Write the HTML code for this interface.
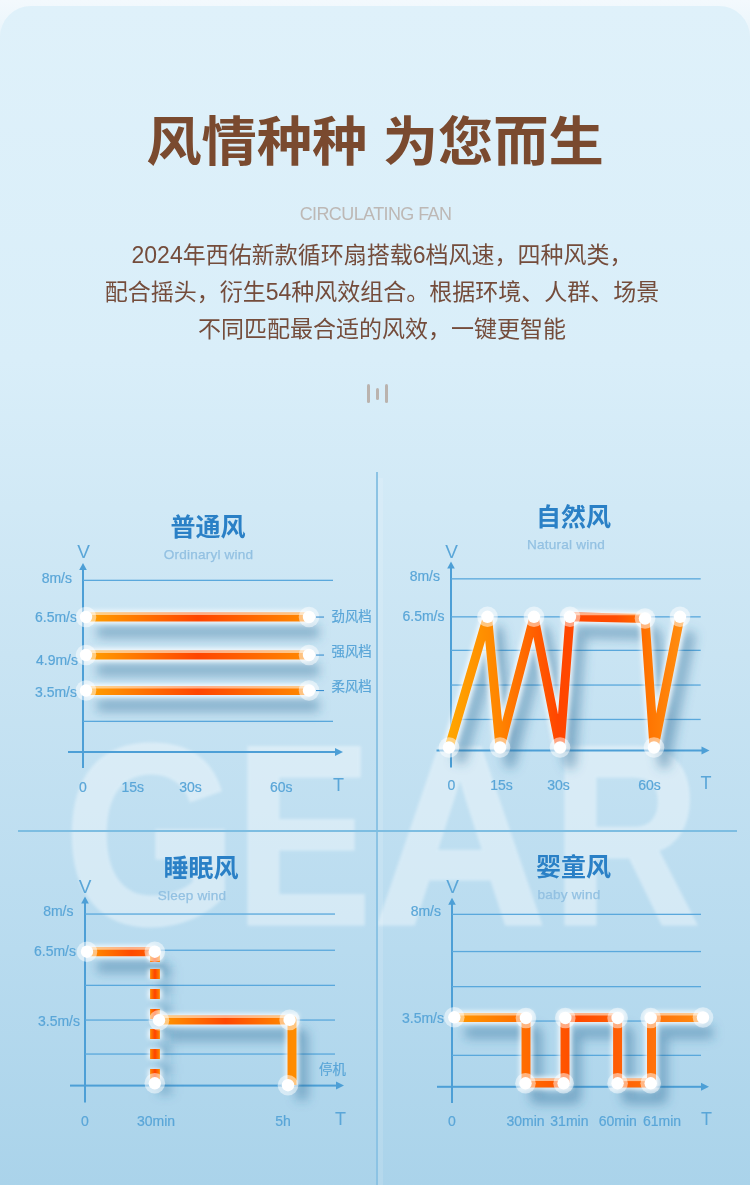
<!DOCTYPE html>
<html><head><meta charset="utf-8"><title>风情种种 为您而生</title>
<style>
*{margin:0;padding:0;box-sizing:border-box}
html,body{width:750px;height:1185px;overflow:hidden;background:linear-gradient(180deg,#f3f9fd 0,#eef7fc 20px,#e3f2fa 45px,#dff1fa 60px)}
body{position:relative;font-family:"Liberation Sans","Noto Sans CJK SC",sans-serif}
.card{position:absolute;left:0;top:5.5px;width:750px;height:1180px;border-radius:31px 31px 0 0;
 background:linear-gradient(180deg,#dff1fa 0%,#d9eef9 30%,#c9e4f3 55%,#b8dbef 80%,#aad3ea 100%)}
.title{position:absolute;left:0;width:750px;top:103.5px;text-align:center;font-size:55.3px;font-weight:700;color:#7a4a2f;
 font-family:"Liberation Sans","Noto Sans CJK SC",sans-serif;line-height:80px;letter-spacing:0;transform:scaleY(0.96);transform-origin:0 17px}
.sub{position:absolute;left:0.5px;width:750px;top:204px;text-align:center;font-size:18px;color:#bdb8b5;line-height:20px;letter-spacing:-0.6px}
.para{position:absolute;left:7px;width:750px;top:237px;text-align:center;font-size:23px;color:#744c3b;line-height:37px;
 font-family:"Liberation Sans","Noto Sans CJK SC",sans-serif}
.bars{position:absolute;left:367px;top:384px}
.bars i{position:absolute;width:3px;border-radius:2px;background:#bab3ae}
.gear{position:absolute;left:0;top:0;width:750px;height:1185px;opacity:0.38;filter:blur(1.8px)}
.gear span{position:absolute;top:685px;font-size:256px;font-weight:700;color:#fff;font-family:"Liberation Sans",sans-serif;line-height:300px;transform-origin:0 0;white-space:nowrap;-webkit-text-stroke:3px #fff}
.vline{position:absolute;left:376px;top:472px;width:2px;height:713px;background:#8cc3e4}
.vglow{position:absolute;left:378px;top:478px;width:5px;height:707px;background:rgba(255,255,255,0.13)}
.hline{position:absolute;left:18px;top:830px;width:719px;height:2px;background:#7dbde1}
svg{position:absolute;left:0;top:0}
</style></head><body>
<div class="card"></div>
<div class="title">风情种种 为您而生</div>
<div class="sub">CIRCULATING FAN</div>
<div class="para">2024年西佑新款循环扇搭载6档风速，四种风类，<br>配合摇头，衍生54种风效组合。根据环境、人群、场景<br>不同匹配最合适的风效，一键更智能</div>
<div class="bars"><i style="left:0;top:0;height:18.5px"></i><i style="left:9px;top:4px;height:12px"></i><i style="left:18px;top:0;height:18.5px"></i></div>
<div class="gear"><span style="left:63.9px;transform:scaleX(0.87)">G</span><span style="left:235.2px;transform:scaleX(0.8)">E</span><span style="left:373px;transform:scaleX(0.94)">A</span><span style="left:552px;transform:scaleX(0.8)">R</span></div>
<div class="vglow"></div>
<div class="vline"></div>
<div class="hline"></div>
<svg width="750" height="1185" viewBox="0 0 750 1185">
<defs>
<filter id="shadow" filterUnits="userSpaceOnUse" x="0" y="0" width="750" height="1185"><feGaussianBlur stdDeviation="5.5"/></filter>
<filter id="glow" filterUnits="userSpaceOnUse" x="0" y="0" width="750" height="1185"><feGaussianBlur stdDeviation="1.9"/></filter>
<filter id="hl" filterUnits="userSpaceOnUse" x="0" y="0" width="750" height="1185"><feGaussianBlur stdDeviation="0.7"/></filter>
<linearGradient id="g1" gradientUnits="userSpaceOnUse" x1="87" y1="0" x2="309" y2="0"><stop offset="0" stop-color="#ffa000"/><stop offset="0.5" stop-color="#ff4500"/><stop offset="1" stop-color="#ff8a00"/></linearGradient>
<linearGradient id="g2" gradientUnits="userSpaceOnUse" x1="449" y1="0" x2="680" y2="0"><stop offset="0" stop-color="#ffa600"/><stop offset="0.22" stop-color="#ff8400"/><stop offset="0.47" stop-color="#ff4600"/><stop offset="0.72" stop-color="#ff4c00"/><stop offset="0.86" stop-color="#ff7400"/><stop offset="1" stop-color="#ff8c10"/></linearGradient>
<linearGradient id="g3" gradientUnits="userSpaceOnUse" x1="87" y1="0" x2="155" y2="0"><stop offset="0" stop-color="#ff9200"/><stop offset="0.65" stop-color="#ff4a00"/><stop offset="1" stop-color="#ff6000"/></linearGradient>
<linearGradient id="g3b" gradientUnits="userSpaceOnUse" x1="159" y1="0" x2="292" y2="0"><stop offset="0" stop-color="#ff9a00"/><stop offset="0.5" stop-color="#ff4800"/><stop offset="1" stop-color="#ff8c00"/></linearGradient>
<linearGradient id="g3d" gradientUnits="userSpaceOnUse" x1="150" y1="0" x2="160" y2="0"><stop offset="0" stop-color="#ff8a00"/><stop offset="0.5" stop-color="#ff4200"/><stop offset="1" stop-color="#ff8a00"/></linearGradient>
<linearGradient id="g4" gradientUnits="userSpaceOnUse" x1="455" y1="0" x2="703" y2="0"><stop offset="0" stop-color="#ff9800"/><stop offset="0.5" stop-color="#ff4a00"/><stop offset="1" stop-color="#ff8c10"/></linearGradient>
</defs>
<text x="208" y="536" font-size="25" text-anchor="middle" fill="#2a80c6" font-weight="700" font-family='"Liberation Sans","Noto Sans CJK SC",sans-serif' >普通风</text>
<text x="208.5" y="559" font-size="13.6" text-anchor="middle" fill="#93c1e2" font-weight="400" font-family='"Liberation Sans","Noto Sans CJK SC",sans-serif' letter-spacing="0.2" stroke="#93c1e2" stroke-width="0.25">Ordinaryl wind</text>
<text x="83.7" y="558" font-size="19" text-anchor="middle" fill="#5aa6d8" font-weight="400" font-family='"Liberation Sans","Noto Sans CJK SC",sans-serif' >V</text>
<rect x="82" y="569" width="2" height="199" fill="#4d9fd6"/>
<path d="M79.2,570 L83,563 L86.8,570 Z" fill="#4d9fd6"/>
<rect x="68" y="751" width="268" height="2" fill="#4d9fd6"/>
<path d="M335,748 L343,752 L335,756 Z" fill="#4d9fd6"/>
<rect x="83" y="579.6999999999999" width="250" height="1.3" fill="#5aa8dc"/>
<rect x="83" y="720.6999999999999" width="250" height="1.3" fill="#5aa8dc"/>
<text x="72" y="582.5" font-size="14" text-anchor="end" fill="#5aa6d8" font-weight="400" font-family='"Liberation Sans","Noto Sans CJK SC",sans-serif'  stroke="#5aa6d8" stroke-width="0.2">8m/s</text>
<text x="77" y="622" font-size="14" text-anchor="end" fill="#5aa6d8" font-weight="400" font-family='"Liberation Sans","Noto Sans CJK SC",sans-serif'  stroke="#5aa6d8" stroke-width="0.2">6.5m/s</text>
<text x="78" y="665" font-size="14" text-anchor="end" fill="#5aa6d8" font-weight="400" font-family='"Liberation Sans","Noto Sans CJK SC",sans-serif'  stroke="#5aa6d8" stroke-width="0.2">4.9m/s</text>
<text x="77" y="697" font-size="14" text-anchor="end" fill="#5aa6d8" font-weight="400" font-family='"Liberation Sans","Noto Sans CJK SC",sans-serif'  stroke="#5aa6d8" stroke-width="0.2">3.5m/s</text>
<text x="83" y="791.5" font-size="14" text-anchor="middle" fill="#5aa6d8" font-weight="400" font-family='"Liberation Sans","Noto Sans CJK SC",sans-serif'  stroke="#5aa6d8" stroke-width="0.2">0</text>
<text x="132.7" y="791.5" font-size="14" text-anchor="middle" fill="#5aa6d8" font-weight="400" font-family='"Liberation Sans","Noto Sans CJK SC",sans-serif'  stroke="#5aa6d8" stroke-width="0.2">15s</text>
<text x="190.5" y="791.5" font-size="14" text-anchor="middle" fill="#5aa6d8" font-weight="400" font-family='"Liberation Sans","Noto Sans CJK SC",sans-serif'  stroke="#5aa6d8" stroke-width="0.2">30s</text>
<text x="281.3" y="791.5" font-size="14" text-anchor="middle" fill="#5aa6d8" font-weight="400" font-family='"Liberation Sans","Noto Sans CJK SC",sans-serif'  stroke="#5aa6d8" stroke-width="0.2">60s</text>
<text x="338.5" y="790.5" font-size="18" text-anchor="middle" fill="#5aa6d8" font-weight="400" font-family='"Liberation Sans","Noto Sans CJK SC",sans-serif' >T</text>
<path d="M87,617 L309,617" fill="none" stroke="#2f6d96" stroke-opacity="0.45" stroke-width="12" stroke-linejoin="round" filter="url(#shadow)" transform="translate(10,15)"/>
<path d="M87,617 L309,617" fill="none" stroke="#fff" stroke-opacity="0.8" stroke-width="13" filter="url(#glow)"/>
<path d="M87,617 L309,617" fill="none" stroke="url(#g1)" stroke-width="9" stroke-linejoin="round"/>
<path d="M87,617 L309,617" fill="none" stroke="#fff3e0" stroke-opacity="0.6" stroke-width="2.6" filter="url(#hl)" transform="translate(0,-3.2)"/>
<path d="M87,655 L309,655" fill="none" stroke="#2f6d96" stroke-opacity="0.45" stroke-width="12" stroke-linejoin="round" filter="url(#shadow)" transform="translate(10,15)"/>
<path d="M87,655 L309,655" fill="none" stroke="#fff" stroke-opacity="0.8" stroke-width="13" filter="url(#glow)"/>
<path d="M87,655 L309,655" fill="none" stroke="url(#g1)" stroke-width="9" stroke-linejoin="round"/>
<path d="M87,655 L309,655" fill="none" stroke="#fff3e0" stroke-opacity="0.6" stroke-width="2.6" filter="url(#hl)" transform="translate(0,-3.2)"/>
<path d="M87,690.5 L309,690.5" fill="none" stroke="#2f6d96" stroke-opacity="0.45" stroke-width="12" stroke-linejoin="round" filter="url(#shadow)" transform="translate(10,15)"/>
<path d="M87,690.5 L309,690.5" fill="none" stroke="#fff" stroke-opacity="0.8" stroke-width="13" filter="url(#glow)"/>
<path d="M87,690.5 L309,690.5" fill="none" stroke="url(#g1)" stroke-width="9" stroke-linejoin="round"/>
<path d="M87,690.5 L309,690.5" fill="none" stroke="#fff3e0" stroke-opacity="0.6" stroke-width="2.6" filter="url(#hl)" transform="translate(0,-3.2)"/>
<circle cx="86" cy="617" r="10.3" fill="#fff" fill-opacity="0.5" filter="url(#hl)"/>
<circle cx="86" cy="617" r="6.2" fill="#fff"/>
<circle cx="309" cy="617" r="10.3" fill="#fff" fill-opacity="0.5" filter="url(#hl)"/>
<circle cx="309" cy="617" r="6.2" fill="#fff"/>
<rect x="316" y="616.5" width="8" height="1.1" fill="#3b8fd0"/>
<circle cx="86" cy="655" r="10.3" fill="#fff" fill-opacity="0.5" filter="url(#hl)"/>
<circle cx="86" cy="655" r="6.2" fill="#fff"/>
<circle cx="309" cy="655" r="10.3" fill="#fff" fill-opacity="0.5" filter="url(#hl)"/>
<circle cx="309" cy="655" r="6.2" fill="#fff"/>
<rect x="316" y="654.5" width="8" height="1.1" fill="#3b8fd0"/>
<circle cx="86" cy="690.5" r="10.3" fill="#fff" fill-opacity="0.5" filter="url(#hl)"/>
<circle cx="86" cy="690.5" r="6.2" fill="#fff"/>
<circle cx="309" cy="690.5" r="10.3" fill="#fff" fill-opacity="0.5" filter="url(#hl)"/>
<circle cx="309" cy="690.5" r="6.2" fill="#fff"/>
<rect x="316" y="690.0" width="8" height="1.1" fill="#3b8fd0"/>
<text x="331.5" y="620.8" font-size="13.4" text-anchor="start" fill="#5aa6d8" font-weight="400" font-family='"Liberation Sans","Noto Sans CJK SC",sans-serif'  stroke="#5aa6d8" stroke-width="0.2">劲风档</text>
<text x="331.5" y="655.8" font-size="13.4" text-anchor="start" fill="#5aa6d8" font-weight="400" font-family='"Liberation Sans","Noto Sans CJK SC",sans-serif'  stroke="#5aa6d8" stroke-width="0.2">强风档</text>
<text x="331.5" y="690.8" font-size="13.4" text-anchor="start" fill="#5aa6d8" font-weight="400" font-family='"Liberation Sans","Noto Sans CJK SC",sans-serif'  stroke="#5aa6d8" stroke-width="0.2">柔风档</text>
<text x="573.5" y="526" font-size="25" text-anchor="middle" fill="#2a80c6" font-weight="700" font-family='"Liberation Sans","Noto Sans CJK SC",sans-serif' >自然风</text>
<text x="566" y="549" font-size="13.6" text-anchor="middle" fill="#93c1e2" font-weight="400" font-family='"Liberation Sans","Noto Sans CJK SC",sans-serif' letter-spacing="0.2" stroke="#93c1e2" stroke-width="0.25">Natural wind</text>
<text x="451.5" y="558" font-size="19" text-anchor="middle" fill="#5aa6d8" font-weight="400" font-family='"Liberation Sans","Noto Sans CJK SC",sans-serif' >V</text>
<rect x="450" y="567.5" width="2" height="200.0" fill="#4d9fd6"/>
<path d="M447.2,568.5 L451,561.5 L454.8,568.5 Z" fill="#4d9fd6"/>
<rect x="436.5" y="749.5" width="266.0" height="2" fill="#4d9fd6"/>
<path d="M701.5,746.5 L709.5,750.5 L701.5,754.5 Z" fill="#4d9fd6"/>
<rect x="451" y="578.1999999999999" width="249.70000000000005" height="1.3" fill="#5aa8dc"/>
<rect x="451" y="616.1999999999999" width="249.70000000000005" height="1.3" fill="#5aa8dc"/>
<rect x="451" y="649.6999999999999" width="249.70000000000005" height="1.3" fill="#5aa8dc"/>
<rect x="451" y="684.4" width="249.70000000000005" height="1.3" fill="#5aa8dc"/>
<rect x="451" y="718.8" width="249.70000000000005" height="1.3" fill="#5aa8dc"/>
<text x="440" y="581" font-size="14" text-anchor="end" fill="#5aa6d8" font-weight="400" font-family='"Liberation Sans","Noto Sans CJK SC",sans-serif'  stroke="#5aa6d8" stroke-width="0.2">8m/s</text>
<text x="444.5" y="621" font-size="14" text-anchor="end" fill="#5aa6d8" font-weight="400" font-family='"Liberation Sans","Noto Sans CJK SC",sans-serif'  stroke="#5aa6d8" stroke-width="0.2">6.5m/s</text>
<text x="451.5" y="790" font-size="14" text-anchor="middle" fill="#5aa6d8" font-weight="400" font-family='"Liberation Sans","Noto Sans CJK SC",sans-serif'  stroke="#5aa6d8" stroke-width="0.2">0</text>
<text x="501.5" y="790" font-size="14" text-anchor="middle" fill="#5aa6d8" font-weight="400" font-family='"Liberation Sans","Noto Sans CJK SC",sans-serif'  stroke="#5aa6d8" stroke-width="0.2">15s</text>
<text x="558.5" y="790" font-size="14" text-anchor="middle" fill="#5aa6d8" font-weight="400" font-family='"Liberation Sans","Noto Sans CJK SC",sans-serif'  stroke="#5aa6d8" stroke-width="0.2">30s</text>
<text x="649.5" y="790" font-size="14" text-anchor="middle" fill="#5aa6d8" font-weight="400" font-family='"Liberation Sans","Noto Sans CJK SC",sans-serif'  stroke="#5aa6d8" stroke-width="0.2">60s</text>
<text x="706" y="789" font-size="18" text-anchor="middle" fill="#5aa6d8" font-weight="400" font-family='"Liberation Sans","Noto Sans CJK SC",sans-serif' >T</text>
<path d="M449,747.5 L487.5,616.8 L500,747.5 L534,616.8 L560,747.5 L570,616.8 L645,618.5 L654,747.5 L680,616.8" fill="none" stroke="#2f6d96" stroke-opacity="0.45" stroke-width="12" stroke-linejoin="round" filter="url(#shadow)" transform="translate(10,15)"/>
<path d="M449,747.5 L487.5,616.8 L500,747.5 L534,616.8 L560,747.5 L570,616.8 L645,618.5 L654,747.5 L680,616.8" fill="none" stroke="#fff" stroke-opacity="0.8" stroke-width="13" filter="url(#glow)"/>
<path d="M449,747.5 L487.5,616.8 L500,747.5 L534,616.8 L560,747.5 L570,616.8 L645,618.5 L654,747.5 L680,616.8" fill="none" stroke="url(#g2)" stroke-width="9" stroke-linejoin="round"/>
<path d="M573,617.2 L642,617.2" fill="none" stroke="#fff3e0" stroke-opacity="0.6" stroke-width="2.6" filter="url(#hl)" transform="translate(0,-3.2)"/>
<circle cx="449" cy="747.5" r="10.3" fill="#fff" fill-opacity="0.5" filter="url(#hl)"/>
<circle cx="449" cy="747.5" r="6.2" fill="#fff"/>
<circle cx="487.5" cy="616.8" r="10.3" fill="#fff" fill-opacity="0.5" filter="url(#hl)"/>
<circle cx="487.5" cy="616.8" r="6.2" fill="#fff"/>
<circle cx="500" cy="747.5" r="10.3" fill="#fff" fill-opacity="0.5" filter="url(#hl)"/>
<circle cx="500" cy="747.5" r="6.2" fill="#fff"/>
<circle cx="534" cy="616.8" r="10.3" fill="#fff" fill-opacity="0.5" filter="url(#hl)"/>
<circle cx="534" cy="616.8" r="6.2" fill="#fff"/>
<circle cx="560" cy="747.5" r="10.3" fill="#fff" fill-opacity="0.5" filter="url(#hl)"/>
<circle cx="560" cy="747.5" r="6.2" fill="#fff"/>
<circle cx="570" cy="616.8" r="10.3" fill="#fff" fill-opacity="0.5" filter="url(#hl)"/>
<circle cx="570" cy="616.8" r="6.2" fill="#fff"/>
<circle cx="645" cy="618.5" r="10.3" fill="#fff" fill-opacity="0.5" filter="url(#hl)"/>
<circle cx="645" cy="618.5" r="6.2" fill="#fff"/>
<circle cx="654" cy="747.5" r="10.3" fill="#fff" fill-opacity="0.5" filter="url(#hl)"/>
<circle cx="654" cy="747.5" r="6.2" fill="#fff"/>
<circle cx="680" cy="616.8" r="10.3" fill="#fff" fill-opacity="0.5" filter="url(#hl)"/>
<circle cx="680" cy="616.8" r="6.2" fill="#fff"/>
<text x="201" y="877" font-size="25" text-anchor="middle" fill="#2a80c6" font-weight="700" font-family='"Liberation Sans","Noto Sans CJK SC",sans-serif' >睡眠风</text>
<text x="192" y="900" font-size="13.6" text-anchor="middle" fill="#93c1e2" font-weight="400" font-family='"Liberation Sans","Noto Sans CJK SC",sans-serif' letter-spacing="0.2" stroke="#93c1e2" stroke-width="0.25">Sleep wind</text>
<text x="85" y="893" font-size="19" text-anchor="middle" fill="#5aa6d8" font-weight="400" font-family='"Liberation Sans","Noto Sans CJK SC",sans-serif' >V</text>
<rect x="84" y="902.5" width="2" height="200.0" fill="#4d9fd6"/>
<path d="M81.2,903.5 L85,896.5 L88.8,903.5 Z" fill="#4d9fd6"/>
<rect x="70" y="1084.6" width="267" height="2" fill="#4d9fd6"/>
<path d="M336,1081.6 L344,1085.6 L336,1089.6 Z" fill="#4d9fd6"/>
<rect x="85" y="913.4" width="250" height="1.3" fill="#5aa8dc"/>
<rect x="85" y="949.6" width="250" height="1.3" fill="#5aa8dc"/>
<rect x="85" y="984.6999999999999" width="250" height="1.3" fill="#5aa8dc"/>
<rect x="85" y="1019.4" width="250" height="1.3" fill="#5aa8dc"/>
<rect x="85" y="1053.4" width="250" height="1.3" fill="#5aa8dc"/>
<text x="73.5" y="916" font-size="14" text-anchor="end" fill="#5aa6d8" font-weight="400" font-family='"Liberation Sans","Noto Sans CJK SC",sans-serif'  stroke="#5aa6d8" stroke-width="0.2">8m/s</text>
<text x="76" y="956" font-size="14" text-anchor="end" fill="#5aa6d8" font-weight="400" font-family='"Liberation Sans","Noto Sans CJK SC",sans-serif'  stroke="#5aa6d8" stroke-width="0.2">6.5m/s</text>
<text x="80" y="1026" font-size="14" text-anchor="end" fill="#5aa6d8" font-weight="400" font-family='"Liberation Sans","Noto Sans CJK SC",sans-serif'  stroke="#5aa6d8" stroke-width="0.2">3.5m/s</text>
<text x="85" y="1126" font-size="14" text-anchor="middle" fill="#5aa6d8" font-weight="400" font-family='"Liberation Sans","Noto Sans CJK SC",sans-serif'  stroke="#5aa6d8" stroke-width="0.2">0</text>
<text x="156" y="1126" font-size="14" text-anchor="middle" fill="#5aa6d8" font-weight="400" font-family='"Liberation Sans","Noto Sans CJK SC",sans-serif'  stroke="#5aa6d8" stroke-width="0.2">30min</text>
<text x="283" y="1126" font-size="14" text-anchor="middle" fill="#5aa6d8" font-weight="400" font-family='"Liberation Sans","Noto Sans CJK SC",sans-serif'  stroke="#5aa6d8" stroke-width="0.2">5h</text>
<text x="340.5" y="1124.5" font-size="18" text-anchor="middle" fill="#5aa6d8" font-weight="400" font-family='"Liberation Sans","Noto Sans CJK SC",sans-serif' >T</text>
<text x="332.5" y="1073.8" font-size="13.4" text-anchor="middle" fill="#5aa6d8" font-weight="400" font-family='"Liberation Sans","Noto Sans CJK SC",sans-serif'  stroke="#5aa6d8" stroke-width="0.2">停机</text>
<path d="M87,951.7 L155,951.7" fill="none" stroke="#2f6d96" stroke-opacity="0.45" stroke-width="12" stroke-linejoin="round" filter="url(#shadow)" transform="translate(10,15)"/>
<path d="M87,951.7 L155,951.7" fill="none" stroke="#fff" stroke-opacity="0.8" stroke-width="13" filter="url(#glow)"/>
<path d="M87,951.7 L155,951.7" fill="none" stroke="url(#g3)" stroke-width="9" stroke-linejoin="round"/>
<path d="M87,951.7 L155,951.7" fill="none" stroke="#fff3e0" stroke-opacity="0.6" stroke-width="2.6" filter="url(#hl)" transform="translate(0,-3.2)"/>
<path d="M155,952 L155,964 M155,969 L155,1083" fill="none" stroke="#2f6d96" stroke-opacity="0.45" stroke-width="12.8" stroke-linejoin="round" filter="url(#shadow)" transform="translate(10,15)" stroke-dasharray="10 10"/>
<path d="M155,952 L155,964 M155,969 L155,1083" fill="none" stroke="#fff" stroke-opacity="0.8" stroke-width="13.8" filter="url(#glow)" stroke-dasharray="10 10"/>
<path d="M155,952 L155,964 M155,969 L155,1083" fill="none" stroke="url(#g3d)" stroke-width="9.8" stroke-linejoin="round" stroke-dasharray="10 10"/>
<path d="M159,1020 L292,1020 L292,1085" fill="none" stroke="#2f6d96" stroke-opacity="0.45" stroke-width="12" stroke-linejoin="round" filter="url(#shadow)" transform="translate(10,15)"/>
<path d="M159,1020 L292,1020 L292,1085" fill="none" stroke="#fff" stroke-opacity="0.8" stroke-width="13" filter="url(#glow)"/>
<path d="M159,1020 L292,1020 L292,1085" fill="none" stroke="url(#g3b)" stroke-width="9" stroke-linejoin="round"/>
<path d="M162,1020 L288,1020" fill="none" stroke="#fff3e0" stroke-opacity="0.6" stroke-width="2.6" filter="url(#hl)" transform="translate(0,-3.2)"/>
<circle cx="87" cy="951.7" r="10.3" fill="#fff" fill-opacity="0.5" filter="url(#hl)"/>
<circle cx="87" cy="951.7" r="6.2" fill="#fff"/>
<circle cx="154.8" cy="951.7" r="10.3" fill="#fff" fill-opacity="0.5" filter="url(#hl)"/>
<circle cx="154.8" cy="951.7" r="6.2" fill="#fff"/>
<circle cx="159" cy="1020.2" r="10.3" fill="#fff" fill-opacity="0.5" filter="url(#hl)"/>
<circle cx="159" cy="1020.2" r="6.2" fill="#fff"/>
<circle cx="289.6" cy="1019.9" r="10.3" fill="#fff" fill-opacity="0.5" filter="url(#hl)"/>
<circle cx="289.6" cy="1019.9" r="6.2" fill="#fff"/>
<circle cx="154.8" cy="1083.3" r="10.3" fill="#fff" fill-opacity="0.5" filter="url(#hl)"/>
<circle cx="154.8" cy="1083.3" r="6.2" fill="#fff"/>
<circle cx="288" cy="1085.2" r="10.3" fill="#fff" fill-opacity="0.5" filter="url(#hl)"/>
<circle cx="288" cy="1085.2" r="6.2" fill="#fff"/>
<text x="573.4" y="876" font-size="25" text-anchor="middle" fill="#2a80c6" font-weight="700" font-family='"Liberation Sans","Noto Sans CJK SC",sans-serif' >婴童风</text>
<text x="569" y="899" font-size="13.6" text-anchor="middle" fill="#93c1e2" font-weight="400" font-family='"Liberation Sans","Noto Sans CJK SC",sans-serif' letter-spacing="0.2" stroke="#93c1e2" stroke-width="0.25">baby wind</text>
<text x="452.5" y="893" font-size="19" text-anchor="middle" fill="#5aa6d8" font-weight="400" font-family='"Liberation Sans","Noto Sans CJK SC",sans-serif' >V</text>
<rect x="451" y="903.7" width="2" height="199.29999999999995" fill="#4d9fd6"/>
<path d="M448.2,904.7 L452,897.7 L455.8,904.7 Z" fill="#4d9fd6"/>
<rect x="437" y="1085.8" width="265" height="2" fill="#4d9fd6"/>
<path d="M701,1082.8 L709,1086.8 L701,1090.8 Z" fill="#4d9fd6"/>
<rect x="452" y="913.6999999999999" width="249" height="1.3" fill="#5aa8dc"/>
<rect x="452" y="950.9" width="249" height="1.3" fill="#5aa8dc"/>
<rect x="452" y="986.0" width="249" height="1.3" fill="#5aa8dc"/>
<rect x="452" y="1020.4" width="249" height="1.3" fill="#5aa8dc"/>
<rect x="452" y="1054.7" width="249" height="1.3" fill="#5aa8dc"/>
<text x="441" y="916" font-size="14" text-anchor="end" fill="#5aa6d8" font-weight="400" font-family='"Liberation Sans","Noto Sans CJK SC",sans-serif'  stroke="#5aa6d8" stroke-width="0.2">8m/s</text>
<text x="444" y="1023" font-size="14" text-anchor="end" fill="#5aa6d8" font-weight="400" font-family='"Liberation Sans","Noto Sans CJK SC",sans-serif'  stroke="#5aa6d8" stroke-width="0.2">3.5m/s</text>
<text x="452" y="1126" font-size="14" text-anchor="middle" fill="#5aa6d8" font-weight="400" font-family='"Liberation Sans","Noto Sans CJK SC",sans-serif'  stroke="#5aa6d8" stroke-width="0.2">0</text>
<text x="525.5" y="1126" font-size="14" text-anchor="middle" fill="#5aa6d8" font-weight="400" font-family='"Liberation Sans","Noto Sans CJK SC",sans-serif'  stroke="#5aa6d8" stroke-width="0.2">30min</text>
<text x="569.4" y="1126" font-size="14" text-anchor="middle" fill="#5aa6d8" font-weight="400" font-family='"Liberation Sans","Noto Sans CJK SC",sans-serif'  stroke="#5aa6d8" stroke-width="0.2">31min</text>
<text x="617.8" y="1126" font-size="14" text-anchor="middle" fill="#5aa6d8" font-weight="400" font-family='"Liberation Sans","Noto Sans CJK SC",sans-serif'  stroke="#5aa6d8" stroke-width="0.2">60min</text>
<text x="662" y="1126" font-size="14" text-anchor="middle" fill="#5aa6d8" font-weight="400" font-family='"Liberation Sans","Noto Sans CJK SC",sans-serif'  stroke="#5aa6d8" stroke-width="0.2">61min</text>
<text x="706.6" y="1124.5" font-size="18" text-anchor="middle" fill="#5aa6d8" font-weight="400" font-family='"Liberation Sans","Noto Sans CJK SC",sans-serif' >T</text>
<path d="M455,1017.5 L526,1017.5 L526,1083 L565,1083 L565,1017.5 L617.6,1017.5 L617.6,1083 L651.5,1083 L651.5,1017.5 L703,1017.5" fill="none" stroke="#2f6d96" stroke-opacity="0.45" stroke-width="12" stroke-linejoin="round" filter="url(#shadow)" transform="translate(10,15)"/>
<path d="M455,1017.5 L526,1017.5 L526,1083 L565,1083 L565,1017.5 L617.6,1017.5 L617.6,1083 L651.5,1083 L651.5,1017.5 L703,1017.5" fill="none" stroke="#fff" stroke-opacity="0.8" stroke-width="13" filter="url(#glow)"/>
<path d="M455,1017.5 L526,1017.5 L526,1083 L565,1083 L565,1017.5 L617.6,1017.5 L617.6,1083 L651.5,1083 L651.5,1017.5 L703,1017.5" fill="none" stroke="url(#g4)" stroke-width="9" stroke-linejoin="round"/>
<path d="M458,1017.5 L523,1017.5" fill="none" stroke="#fff3e0" stroke-opacity="0.6" stroke-width="2.6" filter="url(#hl)" transform="translate(0,-3.2)"/>
<path d="M529,1083 L562,1083" fill="none" stroke="#fff3e0" stroke-opacity="0.6" stroke-width="2.6" filter="url(#hl)" transform="translate(0,-3.2)"/>
<path d="M568,1017.5 L614.6,1017.5" fill="none" stroke="#fff3e0" stroke-opacity="0.6" stroke-width="2.6" filter="url(#hl)" transform="translate(0,-3.2)"/>
<path d="M620.6,1083 L648.5,1083" fill="none" stroke="#fff3e0" stroke-opacity="0.6" stroke-width="2.6" filter="url(#hl)" transform="translate(0,-3.2)"/>
<path d="M654.5,1017.5 L700,1017.5" fill="none" stroke="#fff3e0" stroke-opacity="0.6" stroke-width="2.6" filter="url(#hl)" transform="translate(0,-3.2)"/>
<circle cx="454.3" cy="1017.3" r="10.3" fill="#fff" fill-opacity="0.5" filter="url(#hl)"/>
<circle cx="454.3" cy="1017.3" r="6.2" fill="#fff"/>
<circle cx="525.9" cy="1018" r="10.3" fill="#fff" fill-opacity="0.5" filter="url(#hl)"/>
<circle cx="525.9" cy="1018" r="6.2" fill="#fff"/>
<circle cx="525.5" cy="1083.3" r="10.3" fill="#fff" fill-opacity="0.5" filter="url(#hl)"/>
<circle cx="525.5" cy="1083.3" r="6.2" fill="#fff"/>
<circle cx="563.6" cy="1083.3" r="10.3" fill="#fff" fill-opacity="0.5" filter="url(#hl)"/>
<circle cx="563.6" cy="1083.3" r="6.2" fill="#fff"/>
<circle cx="565.3" cy="1018" r="10.3" fill="#fff" fill-opacity="0.5" filter="url(#hl)"/>
<circle cx="565.3" cy="1018" r="6.2" fill="#fff"/>
<circle cx="617.6" cy="1018" r="10.3" fill="#fff" fill-opacity="0.5" filter="url(#hl)"/>
<circle cx="617.6" cy="1018" r="6.2" fill="#fff"/>
<circle cx="617.6" cy="1083.3" r="10.3" fill="#fff" fill-opacity="0.5" filter="url(#hl)"/>
<circle cx="617.6" cy="1083.3" r="6.2" fill="#fff"/>
<circle cx="650.7" cy="1083.3" r="10.3" fill="#fff" fill-opacity="0.5" filter="url(#hl)"/>
<circle cx="650.7" cy="1083.3" r="6.2" fill="#fff"/>
<circle cx="650.7" cy="1018" r="10.3" fill="#fff" fill-opacity="0.5" filter="url(#hl)"/>
<circle cx="650.7" cy="1018" r="6.2" fill="#fff"/>
<circle cx="703" cy="1017.5" r="10.3" fill="#fff" fill-opacity="0.5" filter="url(#hl)"/>
<circle cx="703" cy="1017.5" r="6.2" fill="#fff"/>
</svg>
</body></html>
